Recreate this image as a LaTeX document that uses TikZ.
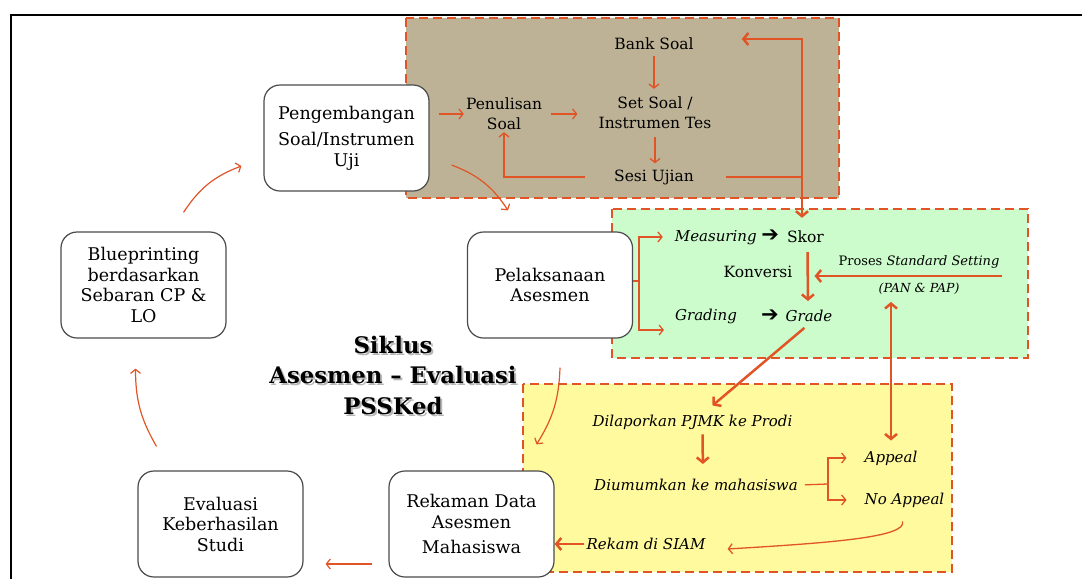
\documentclass[tikz,border=0pt]{standalone}
\usepackage{fontspec}
\setmainfont{DejaVu Serif}
\newfontfamily\symfont{DejaVu Sans}
\usepackage{tikz}
\usetikzlibrary{arrows.meta, positioning, calc}
\definecolor{flowred}{RGB}{224, 84, 38}
\definecolor{tanbrown}{RGB}{189, 178, 150}
\definecolor{mintgreen}{RGB}{204, 251, 204}
\definecolor{paleyellow}{RGB}{255, 250, 158}
\definecolor{boxgray}{RGB}{75, 75, 75}
\newcommand{\fatarrow}{{\upshape\fontsize{21}{20}\selectfont\bfseries\symfont ➔}}
\tikzset{
  >=Straight Barb,
  flowarrow/.style={-{Straight Barb[length=5pt, width=12pt]}, line width=2.5pt, flowred},
  flowarrow_both/.style={{Straight Barb[length=5pt, width=12pt]}-{Straight Barb[length=5pt, width=12pt]}, line width=2.5pt, flowred},
  flowline/.style={line width=2.5pt, flowred},
  flowarrow_thin/.style={-{Straight Barb[length=4pt, width=10pt]}, line width=1.3pt, flowred},
  flowline_thin/.style={line width=1.3pt, flowred},
  cyclearrow/.style={-{Straight Barb[length=4pt, width=10pt]}, line width=1.2pt, flowred},
  stagebox/.style={draw=boxgray, line width=1.2pt, fill=white, rounded corners=16pt, align=center, minimum width=165pt, minimum height=106pt, font=\fontsize{17.5}{20.5}\selectfont},
  zonebox/.style={draw=flowred, line width=2.1pt, dash pattern=on 9pt off 5pt},
  labeltext/.style={align=center, inner sep=2pt, font=\fontsize{15.5}{20}\selectfont},
  italtext/.style={align=center, inner sep=2pt, font=\fontsize{15}{20}\selectfont\itshape},
  smalltext/.style={align=center, inner sep=2pt, font=\fontsize{13}{16}\selectfont},
  titletext/.style={align=center, font=\fontsize{22.8}{30.5}\selectfont\bfseries}
}

\begin{document}
\begin{tikzpicture}[x=1pt, y=-1pt]
    \useasboundingbox (0,0) rectangle (1082,579);
    \draw[line width=2pt] (11,579) -- (11,15) -- (1082,15);

    \draw[zonebox, fill=tanbrown] (406,18) rectangle (839,198);
    \draw[zonebox, fill=mintgreen] (612,209) rectangle (1028,358);
    \draw[zonebox, fill=paleyellow] (523,384) rectangle (952,572);

    \node (peng) [stagebox] at (346.5,138) {Pengembangan\\[6pt]Soal/Instrumen\\Uji};
    \node (blue) [stagebox] at (143.5,285) {Blueprinting\\berdasarkan\\Sebaran CP \&\\LO};
    \node (pel) [stagebox] at (550,285) {Pelaksanaan\\Asesmen};
    \node (eval) [stagebox] at (220.5,524) {Evaluasi\\Keberhasilan\\Studi};
    \node (rek) [stagebox] at (471.5,524) {Rekaman Data\\Asesmen\\[5pt]Mahasiswa};

    \node (titleshade) [titletext, text=black!40, opacity=0.7] at (395,377) {Siklus\\Asesmen -- Evaluasi\\PSSKed};
    \node (title) [titletext] at (393,375) {Siklus\\Asesmen -- Evaluasi\\PSSKed};

    \node (bank) [labeltext] at (654,44) {Bank Soal};
    \node (pen) [labeltext] at (504,114) {Penulisan\\Soal};
    \node (setsoal) [labeltext] at (655,113) {Set Soal /\\Instrumen Tes};
    \node (sesi) [labeltext] at (654,177) {Sesi Ujian};
    \coordinate (jn) at (802,177);

    \node (meas) [italtext] at (727,237) {Measuring \fatarrow};
    \node (skor) [labeltext] at (805.5,237) {Skor};
    \node (konv) [labeltext] at (758,272) {Konversi};
    \node (grad) [italtext] at (706,316) {Grading};
    \node (gradarr) [labeltext] at (770,316) {\fatarrow};
    \node (grade) [italtext] at (809,316) {Grade};
    \node (std) [smalltext] at (919,262) {Proses \textit{Standard Setting}};
    \node (pan) [smalltext, font=\fontsize{12.5}{16}\selectfont\itshape] at (919,289) {(PAN \& PAP)};
    \coordinate (stdr) at (1002,276);
    \coordinate (brkpel) at (639,281);

    \node (lapor) [italtext] at (692.5,422) {Dilaporkan PJMK ke Prodi};
    \node (umum) [italtext] at (696,485) {Diumumkan ke mahasiswa};
    \node (appeal) [italtext] at (891,458) {Appeal};
    \node (noapp) [italtext] at (904.5,500) {No Appeal};
    \node (rekam) [italtext] at (646,544) {Rekam di SIAM};
    \coordinate (brkumum) at (828,484);

    \draw[cyclearrow] ([xshift=40pt,yshift=19pt]blue.north) to[bend left=18] ([xshift=-22pt,yshift=-28pt]peng.west);
    \draw[cyclearrow] ([xshift=22pt,yshift=-27pt]peng.east) to[bend left=18] ([xshift=-42pt,yshift=21pt]pel.north);
    \draw[cyclearrow] ([xshift=10pt,yshift=-29pt]pel.south) to[bend left=15] ([xshift=65pt,yshift=26pt]rek.north);
    \draw[cyclearrow] ([xshift=-16pt,yshift=-40pt]rek.west) -- ([xshift=22pt,yshift=-40pt]eval.east);
    \draw[cyclearrow] ([xshift=-64pt,yshift=24pt]eval.north) to[bend left=15] ([xshift=-8pt,yshift=-30pt]blue.south);

    \draw[flowarrow_thin, shorten <=9pt] (peng.east |- pen) -- (pen.west);
    \draw[flowarrow_thin, shorten <=7pt, shorten >=19pt] (pen.east) -- (pen.east -| setsoal.west);
    \draw[flowarrow_thin, shorten <=4pt, shorten >=6pt] (bank) -- (bank |- setsoal.north);
    \draw[flowarrow_thin, shorten <=6pt, shorten >=4pt] (setsoal) -- (setsoal |- sesi.north);
    \draw[flowarrow_thin, shorten <=27pt] (sesi.west) -| (pen.south);
    \draw[flowline, shorten <=30pt] (sesi.east) -- (sesi.east -| jn);
    \draw[flowarrow] (jn) |- ([xshift=46pt,yshift=5pt]bank.east);
    \draw[flowarrow, shorten >=11pt] (jn) -- (jn |- skor.north);

    \draw[flowline_thin] (pel.east |- brkpel) -- (brkpel);
    \draw[flowarrow_thin, shorten >=10pt] (brkpel) |- (meas.west);
    \draw[flowarrow_thin, shorten >=9pt] (brkpel) |- ([yshift=-14pt]grad.west);
    \draw[flowarrow, shorten <=7pt, shorten >=7pt] ([xshift=2pt]skor.south) -- ([xshift=-1pt]grade.north);
    \draw[flowarrow, shorten >=9pt] (stdr) -- (stdr -| skor);
    \draw[flowarrow_both, shorten <=8pt, shorten >=5pt] (appeal.north) -- (appeal.north |- pan.south);
    \draw[flowarrow, shorten <=6pt] (grade.south) -- ([xshift=20pt,yshift=7pt]lapor.north);

    \draw[flowarrow, shorten <=3pt, shorten >=13pt] ([xshift=10pt]lapor.south) -- ([xshift=7pt]umum.north);
    \draw[flowline_thin, shorten <=5pt] (umum.east) -- (brkumum);
    \draw[flowarrow_thin, shorten >=16pt] (brkumum) |- (appeal.west);
    \draw[flowarrow_thin, shorten >=16pt] (brkumum) |- (noapp.west);
    \draw[flowarrow_thin] ([xshift=-2pt,yshift=-12pt]noapp.south) .. controls +(5,16) and +(100,-6) .. ([xshift=20pt,yshift=-5pt]rekam.east);
    \draw[flowarrow] (rekam.west) -- (rekam.west -| rek.east);
\end{tikzpicture}
\end{document}
